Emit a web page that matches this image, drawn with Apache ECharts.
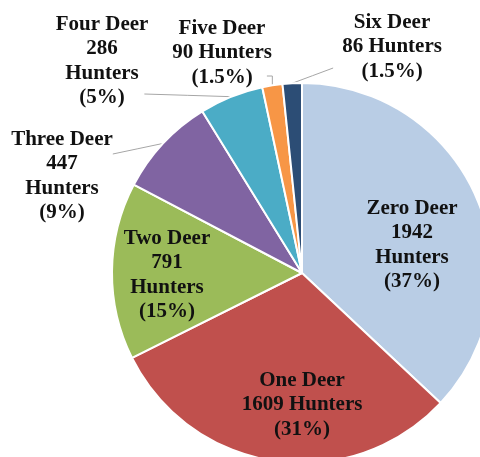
<!DOCTYPE html>
<html>
<head>
<meta charset="utf-8">
<script src="https://cdn.jsdelivr.net/npm/echarts@6/dist/echarts.min.js"></script>
<style>
  html, body { margin: 0; padding: 0; background: #fff; }
  #chart { width: 480px; height: 457px; }
</style>
</head>
<body>
<div id="chart"></div>
<script>
const categories = ["Zero Deer", "One Deer", "Two Deer", "Three Deer", "Four Deer", "Five Deer", "Six Deer"];
const hunters = [1942, 1609, 791, 447, 286, 90, 86];
const percentLabels = ["37%", "31%", "15%", "9%", "5%", "1.5%", "1.5%"];
const colors = ["#b9cde5", "#c0504d", "#9bbb59", "#8064a2", "#4bacc6", "#f79646", "#2c4d75"];

// label text, line breaks as in the original
const labelText = [
  "Zero Deer\n1942\nHunters\n(37%)",
  "One Deer\n1609 Hunters\n(31%)",
  "Two Deer\n791\nHunters\n(15%)",
  "Three Deer\n447\nHunters\n(9%)",
  "Four Deer\n286\nHunters\n(5%)",
  "Five Deer\n90 Hunters\n(1.5%)",
  "Six Deer\n86 Hunters\n(1.5%)"
];
// label centres (layout only)
const labelPos = [[412, 245], [302, 405], [167, 275], [62, 176], [102, 61], [222, 53], [392, 47]];
const outside = [false, false, false, true, true, true, true];
// where each leader line meets its label: side of the label box, offset in x, offset from centre in y, elbow
const leader = [null, null, null,
  { side: "right", dx: 0, dy: -22 },
  { side: "right", dx: -4, dy: 33 },
  { side: "right", dx: -5, dy: 23, elbow: true },
  { side: "left", dx: -9, dy: 21 }
];

const chart = echarts.init(document.getElementById("chart"));
chart.setOption({
  animation: false,
  series: [{
    type: "pie",
    center: [302, 273],
    radius: 190,
    startAngle: 90,
    clockwise: true,
    data: hunters.map((v, i) => ({
      value: v,
      name: categories[i],
      itemStyle: { color: colors[i] },
      label: { position: outside[i] ? "outside" : "inside" },
      labelLine: { show: outside[i] }
    })),
    itemStyle: { borderColor: "#fff", borderWidth: 2 },
    label: {
      formatter: (p) => labelText[p.dataIndex],
      fontFamily: "Liberation Serif",
      fontWeight: "bold",
      fontSize: 21,
      lineHeight: 24.5,
      color: "#111",
      align: "center",
      overflow: "none"
    },
    labelLine: {
      length: 10,
      length2: 10,
      lineStyle: { color: "#a6a6a6", width: 1 }
    },
    labelLayout: (p) => {
      const i = p.dataIndex;
      const [cx, cy] = labelPos[i];
      const out = { x: cx, y: cy, align: "center", verticalAlign: "middle" };
      const l = leader[i];
      if (l && p.labelLinePoints) {
        const start = p.labelLinePoints[0];
        const w = p.labelRect.width;
        const ex = (l.side === "right" ? cx + w / 2 : cx - w / 2) + l.dx;
        const ey = cy + l.dy;
        out.labelLinePoints = l.elbow
          ? [start, [start[0], ey], [ex, ey]]
          : [start, [(start[0] + ex) / 2, (start[1] + ey) / 2], [ex, ey]];
      }
      return out;
    }
  }]
});
</script>
</body>
</html>
